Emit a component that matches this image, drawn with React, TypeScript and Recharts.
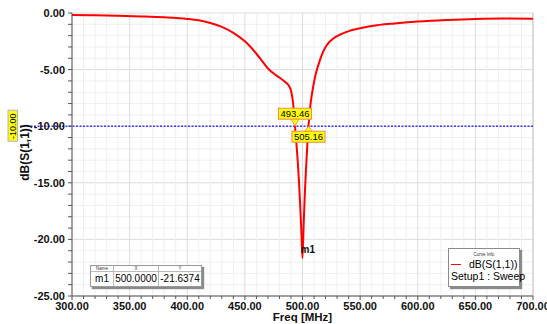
import { CartesianGrid, Line, LineChart, ReferenceDot, ReferenceLine, XAxis, YAxis } from "recharts"

// sweep frequency (MHz) and dB(S(1,1))
const freq = [300, 320, 340, 360, 380, 400, 410, 420, 430, 440, 450, 455, 460, 465, 470, 475, 480, 485, 488, 490, 492, 493, 494, 495, 496, 497, 498, 499, 500, 501, 502, 503, 504, 505, 506, 507, 508, 510, 512, 515, 518, 521, 525, 530, 540, 550, 560, 580, 600, 625, 650, 675, 700]
const s11 = [-0.18, -0.2, -0.24, -0.3, -0.38, -0.52, -0.65, -0.88, -1.22, -1.75, -2.5, -3.0, -3.6, -4.25, -4.9, -5.35, -5.7, -6.1, -6.4, -6.85, -8.1, -9.35, -10.6, -11.9, -13.3, -15.0, -17.0, -19.3, -21.64, -18.7, -16.0, -13.9, -12.0, -10.2, -9.1, -8.0, -7.3, -6.1, -5.2, -4.2, -3.4, -2.85, -2.4, -2.05, -1.6, -1.35, -1.15, -0.92, -0.76, -0.62, -0.52, -0.48, -0.5]

const xTicks = [300, 310, 320, 330, 340, 350, 360, 370, 380, 390, 400, 410, 420, 430, 440, 450, 460, 470, 480, 490, 500, 510, 520, 530, 540, 550, 560, 570, 580, 590, 600, 610, 620, 630, 640, 650, 660, 670, 680, 690, 700]
const yTicks = [-25, -24, -23, -22, -21, -20, -19, -18, -17, -16, -15, -14, -13, -12, -11, -10, -9, -8, -7, -6, -5, -4, -3, -2, -1, 0]

const refLevel = -10
const crossings = [
  { x: 493.46, label: "493.46", above: true },
  { x: 505.16, label: "505.16", above: false },
]
const marker = { name: "m1", x: 500, y: -21.6374 }

const data = freq.map((f, i) => ({ freq: f, s11: s11[i] }))

const FONT = "'Liberation Sans', Arial, sans-serif"
const X_TICK_SIZE = 3
const X_TICK_MARGIN = 2
const Y_TICK_SIZE = 4
const Y_TICK_MARGIN = 3

const XTick = (props: any) => {
  const { x, y, payload } = props
  const axisY = y - X_TICK_SIZE - X_TICK_MARGIN
  const major = Math.round(payload.value) % 50 === 0
  return (
    <g>
      <line x1={x} y1={axisY} x2={x} y2={axisY + (major ? 4 : 3)} stroke="#555" />
      {major && (
        <text x={x} y={axisY + 14} textAnchor="middle" fontSize={11} fontWeight="bold" fill="#111" fontFamily={FONT}>
          {payload.value.toFixed(2)}
        </text>
      )}
    </g>
  )
}

const YTick = (props: any) => {
  const { x, y, payload } = props
  const axisX = x + Y_TICK_SIZE + Y_TICK_MARGIN
  const major = Math.round(payload.value) % 5 === 0
  return (
    <g>
      <line x1={axisX - 4} y1={y} x2={axisX} y2={y} stroke="#555" />
      {major && (
        <text x={axisX - 7} y={y + 4} textAnchor="end" fontSize={11} fontWeight="bold" fill="#111" fontFamily={FONT}>
          {payload.value.toFixed(2)}
        </text>
      )}
    </g>
  )
}

const gridLine = (last: number) => (p: any) => {
  const major = p.index % 5 === 0
  const edge = p.index === last
  return (
    <line
      key={p.key}
      x1={p.x1}
      y1={p.y1}
      x2={p.x2}
      y2={p.y2}
      stroke={edge ? "#b8b8b8" : major ? "#dcdcdc" : "#efefef"}
      strokeWidth={1}
    />
  )
}

const Flag = ({ cx, cy, label, above }: any) => {
  const w = 33
  const h = 11
  const boxY = above ? cy - 18 : cy + 5
  const tip = above ? boxY + h : boxY
  return (
    <g>
      <rect x={cx - w / 2} y={boxY} width={w} height={h} fill="#ffff00" stroke="#f08a4b" strokeWidth={1} />
      <polygon
        points={`${cx - 4},${tip} ${cx + 4},${tip} ${cx},${cy}`}
        fill="#ffff00"
        stroke="#f08a4b"
        strokeWidth={0.8}
      />
      <text x={cx} y={boxY + 9} textAnchor="middle" fontSize={9.5} fill="#000" fontFamily={FONT}>
        {label}
      </text>
    </g>
  )
}

export default function App() {
  return (
    <div style={{ position: "absolute", left: 0, top: 0, width: 547, height: 324, background: "#fff", fontFamily: FONT }}>
      <LineChart width={547} height={324} data={data} margin={{ top: 13, right: 14, bottom: 0, left: 0 }}>
        <CartesianGrid vertical={gridLine(xTicks.length - 1)} horizontal={gridLine(-1)} />
        <XAxis
          dataKey="freq"
          type="number"
          domain={[300, 700]}
          ticks={xTicks}
          interval={0}
          height={28}
          tickSize={X_TICK_SIZE}
          tickMargin={X_TICK_MARGIN}
          tickLine={false}
          tick={<XTick />}
          axisLine={{ stroke: "#555" }}
          label={{
            content: (p: any) => (
              <text
                x={p.viewBox.x + p.viewBox.width / 2}
                y={p.viewBox.y + 25}
                textAnchor="middle"
                fontSize={11.5}
                fontWeight="bold"
                fill="#111"
                fontFamily={FONT}
              >
                Freq [MHz]
              </text>
            ),
          }}
        />
        <YAxis
          type="number"
          domain={[-25, 0]}
          ticks={yTicks}
          interval={0}
          width={72}
          tickSize={Y_TICK_SIZE}
          tickMargin={Y_TICK_MARGIN}
          tickLine={false}
          tick={<YTick />}
          axisLine={{ stroke: "#555" }}
          label={{
            content: (p: any) => {
              const cx = p.viewBox.x + 29
              const cy = p.viewBox.y + p.viewBox.height / 2 - 2
              return (
                <text
                  x={cx}
                  y={cy}
                  transform={`rotate(-90 ${cx} ${cy})`}
                  textAnchor="middle"
                  fontSize={12}
                  fontWeight="bold"
                  fill="#111"
                  fontFamily={FONT}
                >
                  dB(S(1,1))
                </text>
              )
            },
          }}
        />
        <ReferenceLine
          y={refLevel}
          shape={(p: any) => (
            <g>
              <line x1={p.x1 - 52} y1={p.y1} x2={p.x2} y2={p.y2} stroke="#3838ff" strokeWidth={1.5} strokeDasharray="2 1.5" />
              <rect x={p.x1 - 64} y={p.y1 - 16} width={9.5} height={31} fill="#ffff00" stroke="#9a9af0" strokeWidth={0.8} />
              <text
                x={p.x1 - 59}
                y={p.y1 + 3}
                transform={`rotate(-90 ${p.x1 - 59} ${p.y1})`}
                textAnchor="middle"
                fontSize={9}
                fill="#000"
                fontFamily={FONT}
              >
                {refLevel.toFixed(2)}
              </text>
            </g>
          )}
        />
        <Line
          type="monotone"
          dataKey="s11"
          stroke="#ff0000"
          strokeWidth={2}
          dot={false}
          isAnimationActive={false}
        />
        {crossings.map((c) => (
          <ReferenceDot
            key={c.label}
            x={c.x}
            y={refLevel}
            r={0}
            ifOverflow="visible"
            shape={(p: any) => <Flag cx={p.cx} cy={p.cy} label={c.label} above={c.above} />}
          />
        ))}
        <ReferenceDot
          x={marker.x}
          y={marker.y}
          r={0}
          ifOverflow="visible"
          shape={(p: any) => (
            <text x={p.cx - 2} y={p.cy - 5} fontSize={10} fontWeight="bold" fill="#111" fontFamily={FONT}>
              {marker.name}
            </text>
          )}
        />
      </LineChart>

      {/* marker table */}
      <div
        style={{
          position: "absolute",
          left: 90,
          top: 265,
          width: 110,
          border: "1px solid #9a9a9a",
          background: "#fff",
          boxShadow: "2px 2px 1px #8a8a8a",
          fontSize: 10,
          color: "#000",
        }}
      >
        <div style={{ display: "flex", height: 5, fontSize: 4.5, lineHeight: "5px", borderBottom: "1px solid #bbb", color: "#333" }}>
          <div style={{ width: 22, textAlign: "center", borderRight: "1px solid #bbb" }}>Name</div>
          <div style={{ width: 44, textAlign: "center", borderRight: "1px solid #bbb" }}>X</div>
          <div style={{ flex: 1, textAlign: "center" }}>Y</div>
        </div>
        <div style={{ display: "flex", height: 14, lineHeight: "14px" }}>
          <div style={{ width: 22, textAlign: "center", borderRight: "1px solid #bbb" }}>{marker.name}</div>
          <div style={{ width: 44, textAlign: "center", borderRight: "1px solid #bbb" }}>{marker.x.toFixed(4)}</div>
          <div style={{ flex: 1, textAlign: "center" }}>{marker.y.toFixed(4)}</div>
        </div>
      </div>

      {/* curve info */}
      <div
        style={{
          position: "absolute",
          left: 448,
          top: 248,
          width: 70,
          height: 37,
          border: "1px solid #8a8a8a",
          background: "#fff",
          boxShadow: "2px 2px 1px #8a8a8a",
          color: "#000",
          fontSize: 10.5,
        }}
      >
        <div style={{ fontSize: 4.5, textAlign: "center", lineHeight: "5px", marginTop: 3, color: "#333" }}>Curve Info</div>
        <div style={{ display: "flex", alignItems: "center", height: 12, marginTop: 1 }}>
          <div style={{ width: 10, height: 0, borderTop: "1.5px solid #ff0000", marginLeft: 2, marginRight: 8 }} />
          <span>dB(S(1,1))</span>
        </div>
        <div style={{ height: 12, lineHeight: "12px", paddingLeft: 2, whiteSpace: "nowrap" }}>Setup1 : Sweep</div>
      </div>
    </div>
  )
}
